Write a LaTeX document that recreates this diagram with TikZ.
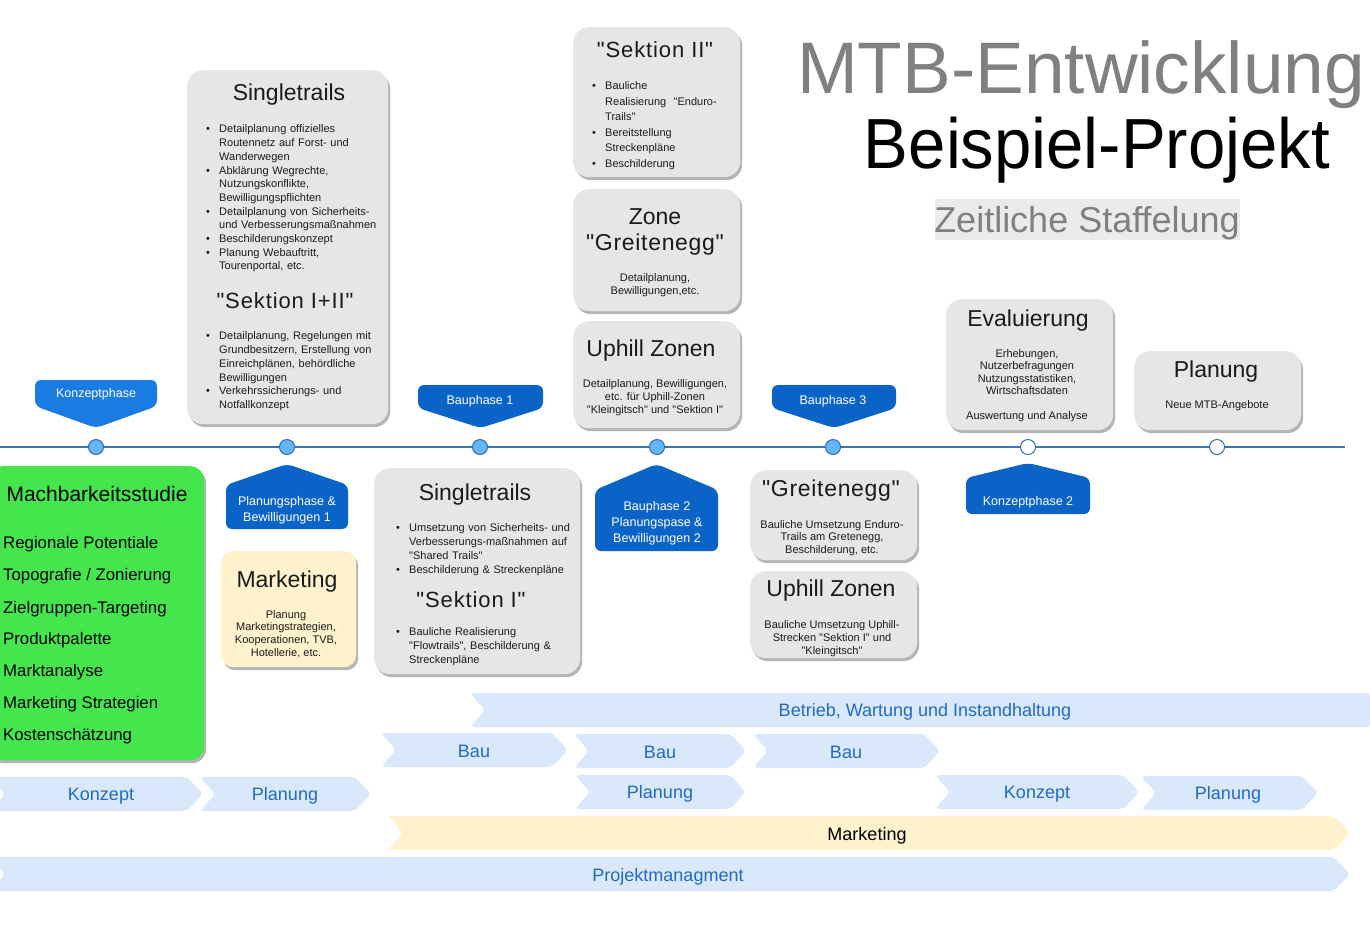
\documentclass[tikz,border=0pt]{standalone}
\usepackage{fontspec}
\setmainfont{Liberation Sans}[Ligatures=TeXOff]
\usetikzlibrary{shadows}
\definecolor{boxgray}{HTML}{E6E6E6}
\definecolor{shadowgray}{HTML}{B5B5B5}
\definecolor{tagblueA}{HTML}{1A7BE3}
\definecolor{tagblue}{HTML}{0A64C8}
\definecolor{linebl}{HTML}{3F73AE}
\definecolor{dotbl}{HTML}{66B3FF}
\definecolor{dotborder}{HTML}{2E6DB4}
\definecolor{barbl}{HTML}{DAE8FC}
\definecolor{bartext}{HTML}{1F6BC2}
\definecolor{beige}{HTML}{FFF2CC}
\definecolor{mgreen}{HTML}{45E54E}
\definecolor{titlegray}{HTML}{808080}
\definecolor{hlgray}{HTML}{EBEBEB}
\definecolor{txtdark}{HTML}{1A1A1A}
\newcommand\bitem[1]{\par\hangindent=13pt\hangafter=1\noindent\makebox[13pt][l]{\textbullet}#1\par}
\newcommand\chevron[5]{\fill[#5, rounded corners=4pt] (#1,#3) -- ({#2-16},#3) -- (#2,{(#3+#4)/2}) -- ({#2-16},#4) -- (#1,#4) -- ({#1+15},{(#3+#4)/2}) -- cycle;}
\newcommand\downtag[6]{\fill[#6, rounded corners=6pt] (#1,#3) -- (#2,#3) -- (#2,#4) -- ({(#1+#2)/2},#5) -- (#1,#4) -- cycle;}
\newcommand\uptag[6]{\fill[#6, rounded corners=6pt] (#1,#5) -- (#1,#4) -- ({(#1+#2)/2},#3) -- (#2,#4) -- (#2,#5) -- cycle;}
\tikzset{
  gbox/.style={fill=boxgray, rounded corners=16pt, inner sep=0pt, anchor=north west,
    drop shadow={shadow xshift=2pt, shadow yshift=-3pt, fill=shadowgray, opacity=1}},
  ttl/.style={anchor=base, inner sep=0pt, text=txtdark, font=\fontsize{23}{27}\selectfont},
  qttl/.style={ttl, font=\fontsize{22}{27}\selectfont\addfontfeature{LetterSpace=4}},
  blist/.style={anchor=north west, inner sep=0pt, text width=#1, align=left, text=txtdark,
    font=\fontsize{11}{13.7}\selectfont},
  ctext/.style={anchor=north, inner sep=0pt, align=center, text=txtdark,
    font=\fontsize{11}{#1}\selectfont},
  tagtxt/.style={inner sep=0pt, align=center, text=white, font=\fontsize{12.5}{16}\selectfont},
  bartxt/.style={inner sep=0pt, text=bartext, font=\fontsize{18}{20}\selectfont},
  mitem/.style={anchor=base west, inner sep=0pt, text=black, font=\fontsize{16.8}{20}\selectfont},
  dot/.style={circle, minimum size=15pt, inner sep=0pt, fill=dotbl, draw=dotborder, line width=1pt},
  edot/.style={dot, fill=white},
}
\begin{document}
\begin{tikzpicture}[x=1pt,y=-1pt]
\useasboundingbox (0,0) rectangle (1370,946);
\fill[white] (0,0) rectangle (1370,946);
\clip (0,0) rectangle (1370,946);

% ---------- title ----------
\node[anchor=base, inner sep=0pt, text=titlegray, font=\fontsize{73}{80}\selectfont] (t1) at (1081,93) {MTB-Entwicklung};
\node[anchor=base, inner sep=0pt, text=black, font=\fontsize{71}{80}\selectfont] (t2) at (1097,168) {\scalebox{0.945}[1]{Beispiel-Projekt}};
\node[anchor=north west, fill=hlgray, minimum width=305pt, minimum height=41pt, inner sep=0pt] (hl) at (935,199) {};
\node[anchor=base, inner sep=0pt, text=titlegray, font=\fontsize{36}{40}\selectfont] (t3) at (1087,232) {Zeitliche Staffelung};

% ---------- timeline ----------
\coordinate (tl0) at (0,447);
\coordinate (tl1) at (1345,447);
\draw[linebl, line width=1.3pt] (tl0) -- (tl1);
\node[dot] (d1) at (96,447) {};
\node[dot] (d2) at (287,447) {};
\node[dot] (d3) at (480,447) {};
\node[dot] (d4) at (657,447) {};
\node[dot] (d5) at (833,447) {};
\node[edot] (d6) at (1028,447) {};
\node[edot] (d7) at (1217,447) {};

% ---------- tags ----------
\downtag{35}{157}{380}{406}{428}{tagblueA}
\node[tagtxt] (tg1) at (96,394) {Konzeptphase};
\downtag{418}{543}{385}{408}{428}{tagblue}
\node[tagtxt] (tg2) at (480,401) {Bauphase 1};
\downtag{772}{896}{385}{408}{428}{tagblue}
\node[tagtxt] (tg3) at (833,401) {Bauphase 3};
\uptag{226}{348}{464}{485}{529}{tagblue}
\node[tagtxt] (tg4) at (287,510) {Planungsphase \&\\Bewilligungen 1};
\uptag{595}{718}{464}{490}{551}{tagblue}
\node[tagtxt] (tg5) at (657,523) {Bauphase 2\\Planungspase \&\\Bewilligungen 2};
\uptag{966}{1090}{463}{478}{514}{tagblue}
\node[tagtxt] (tg6) at (1028,502) {Konzeptphase 2};

% ---------- Singletrails top ----------
\node[gbox, minimum width=201pt, minimum height=354pt] (st1) at (187,70) {};
\node[ttl] (st1t) at (289,100) {Singletrails};
\node[blist=180pt] (st1l) at (206,119) {%
\bitem{Detailplanung offizielles\newline Routennetz auf Forst- und\newline Wanderwegen}%
\bitem{Abklärung Wegrechte,\newline Nutzungskonflikte,\newline Bewilligungspflichten}%
\bitem{Detailplanung von Sicherheits-\newline und Verbesserungsmaßnahmen}%
\bitem{Beschilderungskonzept}%
\bitem{Planung Webauftritt,\newline Tourenportal, etc.}};
\node[qttl] (st1s) at (285,308) {"Sektion I+II"};
\node[blist=180pt] (st1m) at (206,326) {%
\bitem{Detailplanung, Regelungen mit\newline Grundbesitzern, Erstellung von\newline Einreichplänen, behördliche\newline Bewilligungen}%
\bitem{Verkehrssicherungs- und\newline Notfallkonzept}};

% ---------- Sektion II ----------
\node[gbox, minimum width=167pt, minimum height=150pt] (s2) at (573,27) {};
\node[qttl] (s2t) at (655,57) {"Sektion II"};
\node[blist=145pt, font=\fontsize{11}{15.5}\selectfont] (s2l) at (592,74) {%
\bitem{Bauliche\newline Realisierung~~"Enduro-\newline Trails"}%
\bitem{Bereitstellung\newline Streckenpläne}%
\bitem{Beschilderung}};

% ---------- Zone Greitenegg ----------
\node[gbox, minimum width=167pt, minimum height=122pt] (zg) at (573,189) {};
\node[ttl] (zgt1) at (655,224) {Zone};
\node[qttl, font=\fontsize{23}{27}\selectfont\addfontfeature{LetterSpace=3}] (zgt2) at (655,250) {"Greitenegg"};
\node[ctext=13] (zgx) at (655,273) {Detailplanung,\\Bewilligungen,etc.};

% ---------- Uphill top ----------
\node[gbox, minimum width=167pt, minimum height=107pt] (uz1) at (573,321) {};
\node[ttl] (uz1t) at (651,356) {Uphill Zonen};
\node[ctext=13] (uz1x) at (655,379) {Detailplanung, Bewilligungen,\\etc. für Uphill-Zonen\\"Kleingitsch" und "Sektion I"};

% ---------- Evaluierung ----------
\node[gbox, minimum width=167pt, minimum height=131pt] (ev) at (946,299) {};
\node[ttl] (evt) at (1028,326) {Evaluierung};
\node[ctext=12.6] (evx) at (1027,349) {Erhebungen,\\Nutzerbefragungen\\Nutzungsstatistiken,\\Wirtschaftsdaten};
\node[anchor=base, inner sep=0pt, text=txtdark, font=\fontsize{11}{13}\selectfont] (evy) at (1027,419) {Auswertung und Analyse};

% ---------- Planung ----------
\node[gbox, minimum width=167pt, minimum height=79pt] (pl) at (1134,351) {};
\node[ttl] (plt) at (1216,377) {Planung};
\node[anchor=base, inner sep=0pt, text=txtdark, font=\fontsize{11}{13}\selectfont] (plx) at (1217,408) {Neue MTB-Angebote};

% ---------- Machbarkeitsstudie ----------
\node[gbox, fill=mgreen, rounded corners=14pt, minimum width=216pt, minimum height=294pt] (mb) at (-12,466) {};
\node[anchor=base, inner sep=0pt, text=black, font=\fontsize{21}{24}\selectfont] (mbt) at (97,501) {Machbarkeitsstudie};
\node[mitem] (mb1) at (3,548) {Regionale Potentiale};
\node[mitem] (mb2) at (3,580) {Topografie / Zonierung};
\node[mitem] (mb3) at (3,613) {Zielgruppen-Targeting};
\node[mitem] (mb4) at (3,644) {Produktpalette};
\node[mitem] (mb5) at (3,676) {Marktanalyse};
\node[mitem] (mb6) at (3,708) {Marketing Strategien};
\node[mitem] (mb7) at (3,740) {Kostenschätzung};

% ---------- Marketing box ----------
\node[gbox, fill=beige, rounded corners=12pt, minimum width=135pt, minimum height=116pt] (mk) at (221,551) {};
\node[ttl] (mkt) at (287,587) {Marketing};
\node[ctext=12.7] (mkx) at (286,610) {Planung\\Marketingstrategien,\\Kooperationen, TVB,\\Hotellerie, etc.};

% ---------- Singletrails bottom ----------
\node[gbox, minimum width=206pt, minimum height=206pt] (st2) at (374,468) {};
\node[ttl] (st2t) at (475,500) {Singletrails};
\node[blist=180pt] (st2l) at (396,518) {%
\bitem{Umsetzung von Sicherheits- und\newline Verbesserungs-maßnahmen auf\newline "Shared Trails"}%
\bitem{Beschilderung \& Streckenpläne}};
\node[qttl] (st2s) at (471,607) {"Sektion I"};
\node[blist=180pt] (st2m) at (396,622) {%
\bitem{Bauliche Realisierung\newline "Flowtrails", Beschilderung \&\newline Streckenpläne}};

% ---------- Greitenegg bottom ----------
\node[gbox, minimum width=167pt, minimum height=90pt] (gr) at (750,470) {};
\node[qttl, font=\fontsize{23}{27}\selectfont\addfontfeature{LetterSpace=3}] (grt) at (831,496) {"Greitenegg"};
\node[ctext=12.5] (grx) at (832,520) {Bauliche Umsetzung Enduro-\\Trails am Gretenegg,\\Beschilderung, etc.};

% ---------- Uphill bottom ----------
\node[gbox, minimum width=167pt, minimum height=87pt] (uz2) at (750,571) {};
\node[ttl] (uz2t) at (831,596) {Uphill Zonen};
\node[ctext=13] (uz2x) at (832,620) {Bauliche Umsetzung Uphill-\\Strecken "Sektion I" und\\"Kleingitsch"};

% ---------- bars ----------
\chevron{470}{1385}{693}{727}{barbl}
\node[bartxt] (b1) at (925,712) {Betrieb, Wartung und Instandhaltung};
\chevron{381}{568}{733}{767}{barbl}
\node[bartxt] (b2) at (474,751) {Bau};
\chevron{574}{746}{734}{768}{barbl}
\node[bartxt] (b3) at (660,752) {Bau};
\chevron{753}{940}{734}{768}{barbl}
\node[bartxt] (b4) at (846,752) {Bau};
\chevron{-10}{203}{777}{811}{barbl}
\node[bartxt] (b5) at (101,796) {Konzept};
\chevron{200}{371}{777}{811}{barbl}
\node[bartxt] (b6) at (285,796) {Planung};
\chevron{575}{746}{775}{809}{barbl}
\node[bartxt] (b7) at (660,794) {Planung};
\chevron{935}{1139}{775}{809}{barbl}
\node[bartxt] (b8) at (1037,794) {Konzept};
\chevron{1141}{1318}{776}{810}{barbl}
\node[bartxt] (b9) at (1228,795) {Planung};
\chevron{388}{1350}{816}{850}{beige}
\node[bartxt, text=black] (b10) at (867,836) {Marketing};
\chevron{-10}{1350}{857}{891}{barbl}
\node[bartxt] (b11) at (668,877) {Projektmanagment};
\end{tikzpicture}
\end{document}
